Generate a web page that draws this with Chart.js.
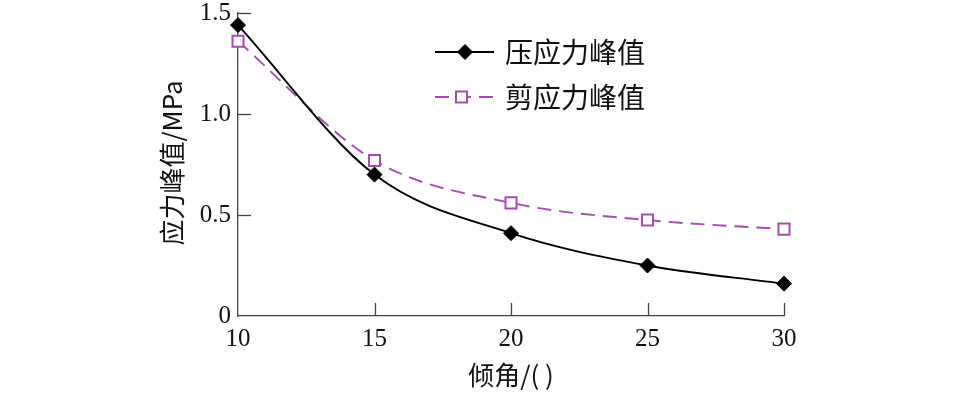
<!DOCTYPE html>
<html>
<head>
<meta charset="utf-8">
<script src="https://cdn.jsdelivr.net/npm/chart.js@4"></script>
<style>
  html,body{ margin:0; padding:0; background:#fff }
  #wrap{ width:957px; height:394px; position:relative }
</style>
</head>
<body>
<div id="wrap"><canvas id="c"></canvas></div>
<script>
// data
const angles = [10, 15, 20, 25, 30]
const compPeak = [1.44, 0.70, 0.41, 0.25, 0.16]
const shearPeak = [1.36, 0.77, 0.56, 0.475, 0.43]
const xTicks = [10, 15, 20, 25, 30]
const yTicks = [0, 0.5, 1.0, 1.5]
const seriesNames = ['压应力峰值', '剪应力峰值']
const xTitle = '倾角/( )'
const yTitle = '应力峰值/MPa'

const PURPLE = '#a14fad'
const SERIF = '"Liberation Serif", "DejaVu Serif", serif'
const CJK = '"Noto Sans CJK SC", sans-serif'

function pts(xs, ys){ return xs.map((x,i)=>({ x, y: ys[i] })) }

// inward ticks, axis titles and the legend box
const extras = {
  id: 'extras',
  afterDatasetsDraw(chart){
    const ctx = chart.ctx, xs = chart.scales.x, ys = chart.scales.y
    const area = chart.chartArea
    ctx.save()
    ctx.strokeStyle = '#444'
    ctx.lineWidth = 1.3
    xTicks.forEach(v=>{
      if(v === xTicks[0]) return
      const px = Math.round(xs.getPixelForValue(v)) + 0.5
      ctx.beginPath(); ctx.moveTo(px, area.bottom); ctx.lineTo(px, area.bottom - 13); ctx.stroke()
    })
    yTicks.forEach(v=>{
      if(v === 0) return
      const py = Math.round(ys.getPixelForValue(v)) + 0.5
      ctx.beginPath(); ctx.moveTo(area.left, py); ctx.lineTo(area.left + 13, py); ctx.stroke()
    })
    // axis titles
    ctx.fillStyle = '#111'
    ctx.font = '26px ' + CJK
    ctx.textAlign = 'center'; ctx.textBaseline = 'middle'
    ctx.fillText(xTitle, 511, 375)
    ctx.save()
    ctx.translate(172, 163); ctx.rotate(-Math.PI/2)
    ctx.fillText(yTitle, 0, 0)
    ctx.restore()
    // legend
    const rows = [{ y: 52, ds: chart.data.datasets[0] }, { y: 97, ds: chart.data.datasets[1] }]
    rows.forEach((r, i)=>{
      ctx.strokeStyle = r.ds.borderColor
      ctx.lineWidth = r.ds.borderWidth
      ctx.setLineDash(r.ds.borderDash || [])
      ctx.beginPath(); ctx.moveTo(435, r.y); ctx.lineTo(494, r.y); ctx.stroke()
      ctx.setLineDash([])
      ctx.fillStyle = r.ds.pointBackgroundColor
      ctx.strokeStyle = r.ds.pointBorderColor
      ctx.lineWidth = r.ds.pointBorderWidth
      if(i === 0){
        ctx.beginPath(); ctx.moveTo(465, r.y - 7.5); ctx.lineTo(472.5, r.y); ctx.lineTo(465, r.y + 7.5); ctx.lineTo(457.5, r.y); ctx.closePath(); ctx.fill(); ctx.stroke()
      } else {
        ctx.fillStyle = '#fff'
        ctx.fillRect(456, r.y - 5.5, 11, 11)
        ctx.strokeRect(456, r.y - 5.5, 11, 11)
      }
      ctx.fillStyle = '#111'
      ctx.font = '28px ' + CJK
      ctx.textAlign = 'left'; ctx.textBaseline = 'middle'
      ctx.fillText(r.ds.label, 505, r.y)
    })
    ctx.restore()
  }
}

new Chart(document.getElementById('c'), {
  type: 'line',
  data: {
    datasets: [
      { label: seriesNames[0], data: pts(angles, compPeak), borderColor: '#000', borderWidth: 1.9,
        pointStyle: 'rectRot', pointRadius: 7.5, pointBackgroundColor: '#000', pointBorderColor: '#000', pointBorderWidth: 1,
        cubicInterpolationMode: 'monotone', fill: false, clip: false },
      { label: seriesNames[1], data: pts(angles, shearPeak), borderColor: PURPLE, borderWidth: 1.9, borderDash: [14, 8],
        pointStyle: 'rect', pointRadius: 7.8, pointBackgroundColor: '#fff', pointBorderColor: PURPLE, pointBorderWidth: 2,
        cubicInterpolationMode: 'monotone', fill: false, clip: false }
    ]
  },
  options: {
    responsive: true, maintainAspectRatio: false, animation: false,
    layout: { padding: { left: 0, right: 173, top: 13, bottom: 0 } },
    plugins: { legend: { display: false }, tooltip: { enabled: false } },
    scales: {
      x: {
        type: 'linear', min: 10, max: 30,
        afterBuildTicks: s=>{ s.ticks = xTicks.map(v=>({ value: v })) },
        afterFit: s=>{ s.height = 78; s.paddingLeft = 0; s.paddingRight = 0 },
        grid: { display: false, drawTicks: false },
        border: { display: true, color: '#444', width: 1.3 },
        ticks: { color: '#111', font: { family: SERIF, size: 25 }, padding: 8, maxRotation: 0 }
      },
      y: {
        min: 0, max: 1.5,
        afterBuildTicks: s=>{ s.ticks = yTicks.map(v=>({ value: v })) },
        afterFit: s=>{ s.width = 238; s.paddingTop = 0; s.paddingBottom = 0 },
        grid: { display: false, drawTicks: false },
        border: { display: true, color: '#444', width: 1.3 },
        ticks: { color: '#111', font: { family: SERIF, size: 25 }, padding: 7,
          callback: v=> v === 0 ? '0' : v.toFixed(1) }
      }
    }
  },
  plugins: [extras]
})
</script>
</body>
</html>
